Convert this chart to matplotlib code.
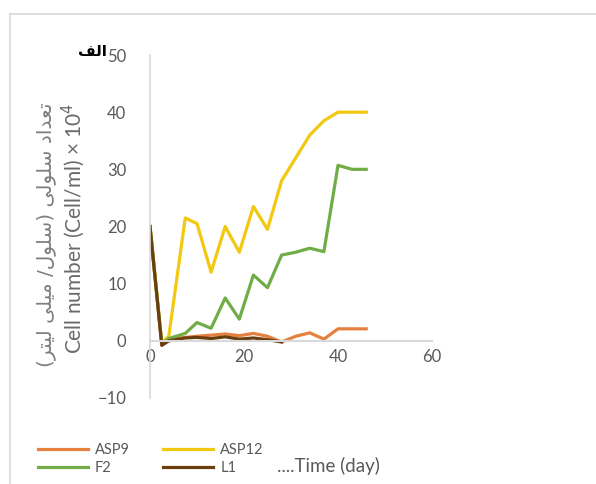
import matplotlib
matplotlib.use('Agg')
import matplotlib.pyplot as plt
from matplotlib.lines import Line2D

# sampling days and cell counts (x 10^4 cell/ml)
days = [0, 2.5, 4, 7.5, 10, 13, 16, 19, 22, 25, 28, 31, 34, 37, 40, 43, 46]
asp9 = [20, -0.5, 0.3, 0.6, 0.8, 1.0, 1.2, 0.9, 1.3, 0.8, -0.2, 0.8, 1.4, 0.3, 2.1, 2.1, 2.1]
asp12 = [20, -0.3, 0.8, 21.5, 20.5, 12.0, 20.0, 15.5, 23.5, 19.5, 28.0, 32.0, 36.0, 38.5, 40.0, 40.0, 40.0]
f2 = [20, -0.5, 0.4, 1.3, 3.2, 2.2, 7.5, 3.8, 11.5, 9.3, 15.0, 15.5, 16.2, 15.6, 30.7, 30.0, 30.0]
days_l1 = [0, 2.5, 4, 7.5, 10, 13, 16, 19, 22, 25, 28]
l1 = [20, -0.8, 0.0, 0.5, 0.6, 0.4, 0.7, 0.3, 0.5, 0.2, -0.2]

series_names = ['ASP9', 'ASP12', 'F2', 'L1']
series_colors = ['#E5803F', '#F2C811', '#70AD47', '#6B3E0E']

x_ticks = [0, 20, 40, 60]
y_ticks = [-10, 0, 10, 20, 30, 40, 50]


def shape_rtl(glyphs):
    # glyphs are already in presentation forms, logical order -> visual order
    swap = {'(': ')', ')': '('}
    return ''.join(swap.get(c, c) for c in reversed(glyphs))


# "الف"
title_fa = shape_rtl('\uFE8D\uFEDF\uFED2')
# "تعداد سلولی (سلول/ میلی لیتر)"
label_fa = shape_rtl('\uFE97\uFECC\uFEAA\uFE8D\uFEA9 '
                     '\uFEB3\uFEE0\uFEEE\uFEDF\uFEF0 '
                     '(\uFEB3\uFEE0\uFEEE\uFEDD/ '
                     '\uFEE3\uFEF4\uFEE0\uFEF0 '
                     '\uFEDF\uFEF4\uFE98\uFEAE)')

plt.rcParams['font.family'] = ['Lato', 'DejaVu Sans']

fig = plt.figure(figsize=(5.96, 4.84), dpi=100)
# outer chart-area border (left and top edges)
fig.add_artist(Line2D([10 / 596, 10 / 596], [0, 1 - 14 / 484], transform=fig.transFigure,
                      color='#d9d9d9', lw=1.2))
fig.add_artist(Line2D([10 / 596, 1], [1 - 14 / 484, 1 - 14 / 484], transform=fig.transFigure,
                      color='#d9d9d9', lw=1.2))

ax = fig.add_axes([150 / 596, 86 / 484, 282 / 596, 343 / 484])
lines = []
for xs, ys, name, col in [(days, asp9, series_names[0], series_colors[0]),
                          (days, asp12, series_names[1], series_colors[1]),
                          (days, f2, series_names[2], series_colors[2]),
                          (days_l1, l1, series_names[3], series_colors[3])]:
    ln, = ax.plot(xs, ys, color=col, lw=2.3, label=name, solid_joinstyle='round')
    lines.append(ln)

ax.set_xlim(0, 60)
ax.set_ylim(-10, 50)
ax.set_xticks(x_ticks)
ax.set_yticks(y_ticks)
ax.tick_params(length=0, labelsize=12, colors='#595959')
ax.tick_params(axis='y', pad=17)
ax.tick_params(axis='x', pad=6)
for s in ['top', 'right']:
    ax.spines[s].set_visible(False)
ax.spines['bottom'].set_position(('data', 0))
ax.spines['bottom'].set_color('#d9d9d9')
ax.spines['bottom'].set_linewidth(1.5)
ax.spines['left'].set_color('#d9d9d9')
ax.spines['left'].set_linewidth(1.2)
ax.patch.set_alpha(0)

fig.text(46 / 596, 1 - 235 / 484, label_fa, rotation=90, ha='center', va='center',
         fontsize=14.5, color='#7f7f7f', family='DejaVu Sans')
fig.text(73 / 596, 1 - 228 / 484, 'Cell number (Cell/ml) \u00d7 10$^4$', rotation=90,
         ha='center', va='center', fontsize=15, color='#6a6a6a')
fig.text(92 / 596, 1 - 52 / 484, title_fa, ha='center', va='center',
         fontsize=11, fontweight='bold', color='black', family='DejaVu Sans')

# legend is filled column by column, so order handles to read row-wise
fig.legend(handles=[lines[0], lines[2], lines[1], lines[3]], loc='upper left',
           bbox_to_anchor=(25 / 596, 1 - 430 / 484),
           ncol=2, frameon=False, handlelength=3.4, handletextpad=0.5,
           columnspacing=2.3, labelspacing=0.25, fontsize=10.5,
           labelcolor='#595959')
fig.text(277 / 596, 1 - 466 / 484, '....Time (day)', ha='left', va='center',
         fontsize=13.5, color='#595959')

fig.savefig('out.png', dpi=100)
